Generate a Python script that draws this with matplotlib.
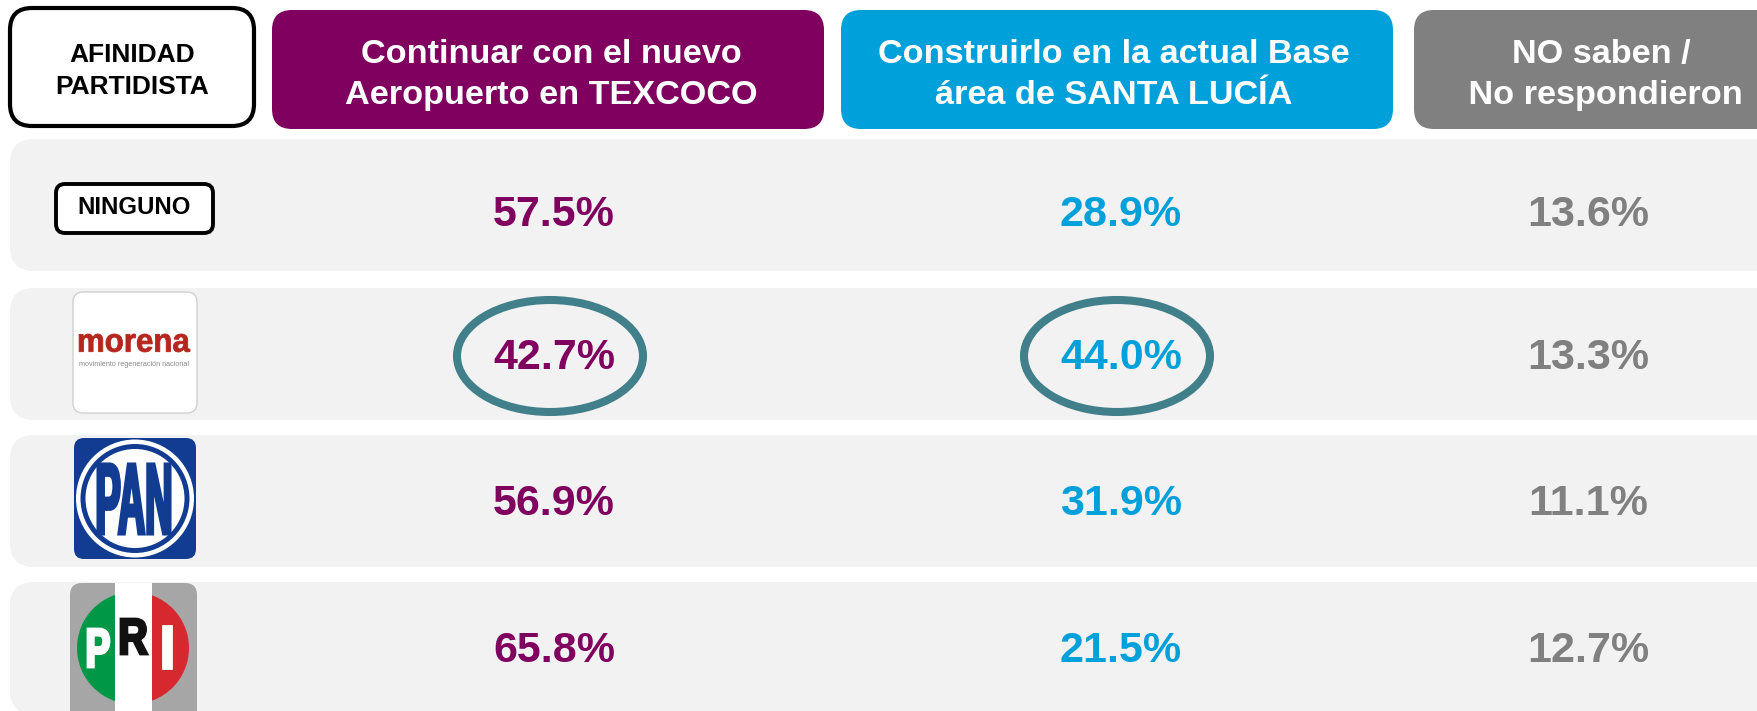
import numpy as np
import matplotlib
matplotlib.use("Agg")
import matplotlib.pyplot as plt
from matplotlib.patches import FancyBboxPatch, Ellipse, Circle, Rectangle, PathPatch, Wedge
from matplotlib.textpath import TextPath
from matplotlib.font_manager import FontProperties
from matplotlib.transforms import Affine2D

plt.rcParams['font.family'] = ['Liberation Sans', 'DejaVu Sans']

# datos
partidos = ["NINGUNO", "morena", "PAN", "PRI"]
texcoco = [57.5, 42.7, 56.9, 65.8]
santa_lucia = [28.9, 44.0, 31.9, 21.5]
no_sabe = [13.6, 13.3, 11.1, 12.7]
encabezados = ["Continuar con el nuevo\nAeropuerto en TEXCOCO",
               "Construirlo en la actual Base\nárea de SANTA LUCÍA",
               "NO saben /\n No respondieron"]
resaltar = [(1, 0), (1, 1)]  # (fila, columna) con elipse

MORADO = "#800060"
AZUL = "#00A0DA"
GRIS = "#808080"
TEAL = "#41808A"
FONDO = "#F2F2F2"
col_colores = [MORADO, AZUL, GRIS]

W, H = 1758, 711
fig = plt.figure(figsize=(W / 100, H / 100), dpi=100)
ax = fig.add_axes([0, 0, 1, 1])
ax.set_xlim(0, W)
ax.set_ylim(H, 0)
ax.axis("off")

bold = FontProperties(family='Liberation Sans', weight='bold')


def caja(x0, y0, x1, y1, r, **kw):
    p = FancyBboxPatch((x0, y0), x1 - x0, y1 - y0,
                       boxstyle=f"round,pad=0,rounding_size={r}", **kw)
    ax.add_patch(p)
    return p


def texto_ajustado(s, x0, y0, x1, y1, color, z=5, grosor=0):
    # texto como trazo, estirado para llenar la caja (logos)
    tp = TextPath((0, 0), s, size=1, prop=bold)
    ext = tp.get_extents()
    tr = (Affine2D().translate(-ext.x0, -ext.y0)
          .scale((x1 - x0) / ext.width, -(y1 - y0) / ext.height)
          .translate(x0, y1))
    ax.add_patch(PathPatch(tr.transform_path(tp), fc=color, ec=color,
                           lw=grosor, zorder=z))


# encabezados
caja(10, 8, 254, 126, 22, fc="white", ec="black", lw=3)
ax.text(132, 71, "AFINIDAD\nPARTIDISTA", ha="center", va="center",
        fontsize=19, fontweight="bold", linespacing=1.45)

col_x0 = [272, 841, 1414]
col_x1 = [824, 1393, 1790]
hdr_cx = [551, 1114, 1601]
for i in range(3):
    caja(col_x0[i], 10, col_x1[i], 129, 20, fc=col_colores[i], ec="none")
    ax.text(hdr_cx[i], 75, encabezados[i], ha="center", va="center",
            color="white", fontsize=24.7, fontweight="bold", linespacing=1.42)

# filas
fila_top = [139, 288, 435, 582]
fila_h = 132
val_x = [554, 1121, 1588]
val_dy = [10, 4, 3, 3]
for i, p in enumerate(partidos):
    caja(10, fila_top[i], 1785, fila_top[i] + fila_h, 24, fc=FONDO, ec="none")
    yc = fila_top[i] + fila_h / 2 + val_dy[i]
    for j, serie in enumerate([texcoco, santa_lucia, no_sabe]):
        ax.text(val_x[j], yc, f"{serie[i]:.1f}%", ha="center", va="center",
                color=col_colores[j], fontsize=31, fontweight="bold", zorder=6)

for (fi, cj) in resaltar:
    yc = fila_top[fi] + fila_h / 2 + 2
    ax.add_patch(Ellipse((val_x[cj] - 4, yc), 186, 112, fill=False,
                         ec=TEAL, lw=5.8, zorder=7))

# logo NINGUNO
caja(56, 184, 213, 233, 9, fc="white", ec="black", lw=2.8, zorder=4)
ax.text(134.5, 207, "NINGUNO", ha="center", va="center", fontsize=17.3,
        fontweight="bold", zorder=5)

# logo morena
caja(73, 292, 197, 413, 10, fc="white", ec="#D0D0D0", lw=1, zorder=4)
texto_ajustado("morena", 79, 334, 190, 352, "#B5261E", grosor=0.6)
ax.text(134.5, 364, "movimiento regeneración nacional", ha="center",
        va="center", fontsize=5.2, color="#8C8C8C", zorder=5)

# logo PAN
caja(74, 438, 196, 559, 10, fc="#123C92", ec="none", zorder=4)
ax.add_patch(Circle((135, 498.5), 59, fc="white", ec="none", zorder=5))
ax.add_patch(Circle((135, 498.5), 54.5, fc="#123C92", ec="none", zorder=5))
ax.add_patch(Circle((135, 498.5), 49.5, fc="white", ec="none", zorder=5))
texto_ajustado("PAN", 98, 464, 170, 534, "#123C92", z=6, grosor=2.2)

# logo PRI
caja(70, 583, 197, 730, 12, fc="#A6A6A6", ec="none", zorder=4)
ax.add_patch(Wedge((133, 648), 56, 90, 270, fc="#009846", ec="none", zorder=5))
ax.add_patch(Wedge((133, 648), 56, -90, 90, fc="#D7282F", ec="none", zorder=5))
ax.add_patch(Rectangle((115, 583), 37, 140, fc="white", ec="none", zorder=5))
texto_ajustado("P", 88, 629, 109, 667, "white", z=6, grosor=2)
texto_ajustado("R", 121, 619, 147, 654, "#111111", z=6, grosor=2)
texto_ajustado("I", 163, 626, 171, 668, "white", z=6, grosor=2)

fig.savefig("out.png", dpi=100, facecolor="white")
